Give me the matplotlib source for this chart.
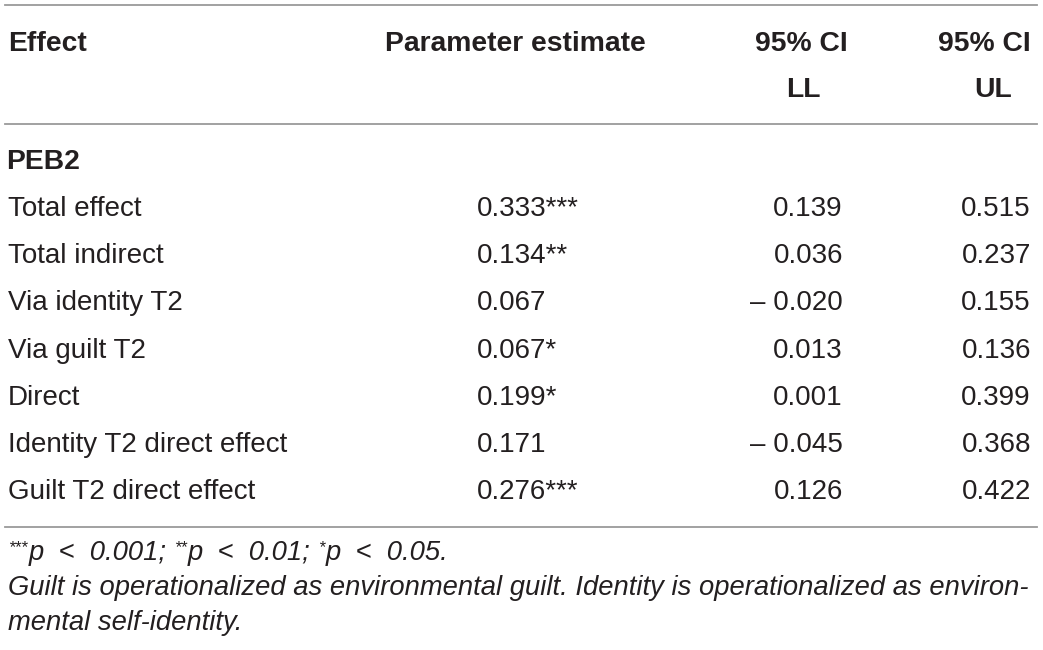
import matplotlib.pyplot as plt

effects = ["Total effect", "Total indirect", "Via identity T2", "Via guilt T2",
           "Direct", "Identity T2 direct effect", "Guilt T2 direct effect"]
estimates = ["0.333***", "0.134**", "0.067", "0.067*", "0.199*", "0.171", "0.276***"]
ci_ll = ["0.139", "0.036", "\u2013 0.020", "0.013", "0.001", "\u2013 0.045", "0.126"]
ci_ul = ["0.515", "0.237", "0.155", "0.136", "0.399", "0.368", "0.422"]
group = "PEB2"
# (superscript stars, text) pieces of the first footnote line
sig_note = [("***", "p  <  0.001; "), ("**", "p  <  0.01; "), ("*", "p  <  0.05.")]
notes = ["Guilt is operationalized as environmental guilt. Identity is operationalized as environ-",
         "mental self-identity."]

plt.rcParams["font.family"] = ["Liberation Sans", "DejaVu Sans"]

W, H = 1043, 650
fig = plt.figure(figsize=(W / 100, H / 100), dpi=100)
ax = fig.add_axes([0, 0, 1, 1])
ax.set_xlim(0, W)
ax.set_ylim(H, 0)
ax.axis("off")

txt = "#231f20"
line_c = "#9a9a9a"
fs = 20
hfs = 20.3
nfs = 19.75

for y in (5, 124, 527):
    ax.plot([5, 1037], [y, y], color=line_c, lw=1.3)

# header
hkw = dict(fontsize=hfs, fontweight="bold", color=txt, va="center")
ax.text(8, 44, "Effect", ha="left", **hkw)
ax.text(385, 44, "Parameter estimate", ha="left", **hkw)
ax.text(848, 44, "95% CI", ha="right", **hkw)
ax.text(1031, 44, "95% CI", ha="right", **hkw)
ax.text(803, 90, "LL", ha="center", **hkw)
ax.text(993, 90, "UL", ha="center", **hkw)

ax.text(6, 162, group, ha="left", **hkw)

y0, dy = 209, 47.2
for i, (e, est, ll, ul) in enumerate(zip(effects, estimates, ci_ll, ci_ul)):
    y = y0 + i * dy
    kw = dict(fontsize=fs, color=txt, va="center")
    ax.text(8, y, e, ha="left", **kw)
    ax.text(477, y, est, ha="left", **kw)
    ax.text(843, y, ll, ha="right", **kw)
    ax.text(1031, y, ul, ha="right", **kw)

# first footnote line, built piece by piece
renderer = fig.canvas.get_renderer()
x = 8
for stars, rest in sig_note:
    t = ax.text(x, 548, stars, ha="left", va="center", fontsize=12,
                style="italic", color=txt)
    x = ax.transData.inverted().transform(t.get_window_extent(renderer).corners()[-1])[0] + 1
    t = ax.text(x, 553, rest, ha="left", va="center", fontsize=nfs,
                style="italic", color=txt)
    x = ax.transData.inverted().transform(t.get_window_extent(renderer).corners()[-1])[0]

for j, n in enumerate(notes):
    ax.text(8, 588 + j * 35, n, ha="left", va="center", fontsize=nfs,
            style="italic", color=txt)

fig.savefig("out.png", dpi=100)
